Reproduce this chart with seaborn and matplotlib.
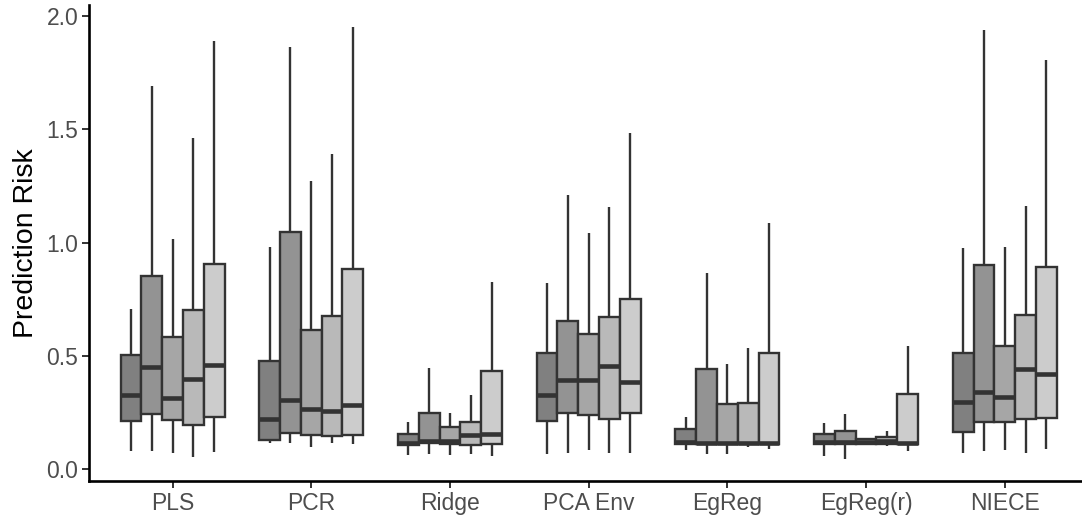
import numpy as np
import pandas as pd
import matplotlib
matplotlib.use("Agg")
import matplotlib.pyplot as plt
import seaborn as sns

methods = ["PLS", "PCR", "Ridge", "PCA Env", "EgReg", "EgReg(r)", "NIECE"]
settings = ["S1", "S2", "S3", "S4", "S5"]

# per method, per setting (5 boxes): lower whisker, Q1, median, Q3, upper whisker
whisker_low = [
    [0.081, 0.081, 0.070, 0.053, 0.078],
    [0.117, 0.117, 0.097, 0.117, 0.112],
    [0.063, 0.067, 0.063, 0.067, 0.059],
    [0.068, 0.070, 0.085, 0.070, 0.072],
    [0.085, 0.066, 0.067, 0.100, 0.088],
    [0.060, 0.044, 0.110, 0.103, 0.082],
    [0.070, 0.081, 0.085, 0.070, 0.088],
]
q1 = [
    [0.213, 0.244, 0.217, 0.195, 0.232],
    [0.129, 0.161, 0.151, 0.147, 0.151],
    [0.107, 0.115, 0.112, 0.106, 0.112],
    [0.215, 0.247, 0.240, 0.222, 0.247],
    [0.112, 0.112, 0.112, 0.112, 0.112],
    [0.112, 0.112, 0.114, 0.112, 0.112],
    [0.163, 0.207, 0.210, 0.220, 0.228],
]
medians = [
    [0.328, 0.450, 0.316, 0.400, 0.460],
    [0.220, 0.306, 0.266, 0.257, 0.284],
    [0.118, 0.124, 0.124, 0.151, 0.156],
    [0.328, 0.394, 0.394, 0.456, 0.387],
    [0.119, 0.118, 0.118, 0.118, 0.118],
    [0.121, 0.120, 0.121, 0.123, 0.118],
    [0.298, 0.342, 0.320, 0.442, 0.420],
]
q3 = [
    [0.504, 0.853, 0.585, 0.703, 0.906],
    [0.479, 1.045, 0.614, 0.678, 0.882],
    [0.156, 0.250, 0.188, 0.210, 0.434],
    [0.515, 0.654, 0.597, 0.673, 0.753],
    [0.176, 0.441, 0.288, 0.294, 0.512],
    [0.156, 0.170, 0.134, 0.144, 0.331],
    [0.512, 0.901, 0.545, 0.681, 0.894],
]
whisker_high = [
    [0.706, 1.691, 1.015, 1.460, 1.891],
    [0.981, 1.864, 1.272, 1.390, 1.953],
    [0.210, 0.448, 0.250, 0.328, 0.828],
    [0.820, 1.210, 1.041, 1.156, 1.485],
    [0.229, 0.867, 0.463, 0.534, 1.086],
    [0.206, 0.244, 0.134, 0.169, 0.543],
    [0.978, 1.936, 0.982, 1.163, 1.804],
]
y_ticks = [0.0, 0.5, 1.0, 1.5, 2.0]
y_ticklabels = ["0.0", "0.5", "1.0", "1.5", "2.0"]

fills = ["#808080", "#939393", "#a6a6a6", "#b9b9b9", "#cccccc"]

rows = []
for i, m in enumerate(methods):
    for j, s in enumerate(settings):
        for v in (whisker_low[i][j], q1[i][j], medians[i][j], q3[i][j], whisker_high[i][j]):
            rows.append({"Method": m, "Setting": s, "Risk": v})
df = pd.DataFrame(rows)

sns.set_style("ticks")
plt.rcParams["font.family"] = ["Liberation Sans", "DejaVu Sans"]

fig = plt.figure(figsize=(10.82, 5.21), dpi=100)
ax = fig.add_axes([89.3 / 1082, 40.3 / 521, 1 - 89.3 / 1082, (480.7 - 5) / 521])

sns.boxplot(
    data=df, x="Method", y="Risk", hue="Setting",
    order=methods, hue_order=settings, palette=fills,
    width=0.75, gap=0, whis=(0, 100), saturation=1,
    linecolor="#333333", linewidth=1.7, showfliers=False,
    medianprops={"linewidth": 3.3, "solid_capstyle": "butt"},
    capprops={"visible": False},
    legend=False, ax=ax,
)

ax.set_xlim(-0.6, (1082 - 89.3) / 138.7 - 0.6)
ax.set_ylim(-0.05, 2.048)
ax.set_yticks(y_ticks)
ax.set_yticklabels(y_ticklabels)
ax.set_xlabel("")
ax.set_ylabel("Prediction Risk", fontsize=20.5, color="black", labelpad=5)
ax.tick_params(axis="both", labelsize=16.5, labelcolor="#4d4d4d", color="#333333",
               length=5, width=1.4, pad=3)
for side in ["top", "right"]:
    ax.spines[side].set_visible(False)
for side in ["left", "bottom"]:
    ax.spines[side].set_linewidth(1.9)
    ax.spines[side].set_color("black")

fig.savefig("out.png", dpi=100)
